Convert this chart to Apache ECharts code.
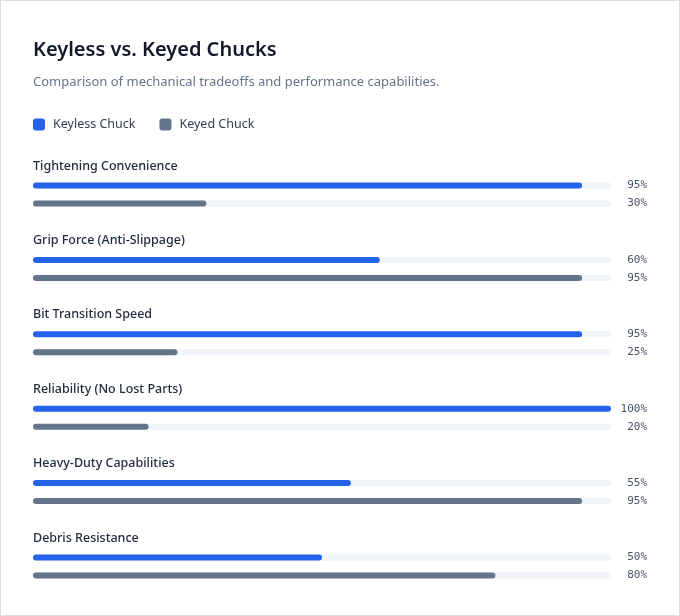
<!DOCTYPE html>
<html><head><meta charset="utf-8">
<script src="https://cdn.jsdelivr.net/npm/echarts@6/dist/echarts.min.js"></script>
<style>
html,body{margin:0;padding:0;background:#fff;}
#wrap{position:relative;width:680px;height:616px;}
#c{position:absolute;left:0;top:0;width:680px;height:616px;}
#b{position:absolute;left:0;top:0;width:680px;height:616px;box-sizing:border-box;border:1px solid #dddddd;pointer-events:none;}
</style></head>
<body><div id="wrap"><div id="c"></div><div id="b"></div></div>
<script>
const categories = ["Tightening Convenience","Grip Force (Anti-Slippage)","Bit Transition Speed","Reliability (No Lost Parts)","Heavy-Duty Capabilities","Debris Resistance"];
const keyless = [95,60,95,100,55,50];
const keyed = [30,95,25,20,95,80];
const seriesNames = ["Keyless Chuck","Keyed Chuck"];
const colors = ["#2563eb","#64748b"];
const font = "'Noto Sans', 'Open Sans', sans-serif";

const chart = echarts.init(document.getElementById('c'), null, {renderer:'canvas'});
const titles = [
  {text:"Keyless vs. Keyed Chucks", left:33, top:40, padding:0, textStyle:{fontFamily:font,fontSize:20,fontWeight:600,color:'#111827'}},
  {text:"Comparison of mechanical tradeoffs and performance capabilities.", left:33, top:76, padding:0, textStyle:{fontFamily:font,fontSize:13,fontWeight:400,color:'#64748b'}}
];
const grids=[], xAxes=[], yAxes=[], series=[];
categories.forEach((cat,i)=>{
  const top = 176.5 + 74.4*i;
  titles.push({text:cat, left:33, top: top-17, padding:0, textStyle:{fontFamily:font,fontSize:12.5,fontWeight:500,color:'#1e293b'}});
  grids.push({left:33, right:69, top:top, height:36});
  xAxes.push({gridIndex:i, type:'value', min:0, max:100, show:false});
  yAxes.push({gridIndex:i, type:'category', data:['k','d'], inverse:true, show:false});
  yAxes.push({gridIndex:i, type:'category', position:'right', inverse:true, data:[keyless[i]+'%', keyed[i]+'%'],
    axisLine:{show:false}, axisTick:{show:false}, splitLine:{show:false},
    axisLabel:{align:'right', margin:36, fontFamily:"'DejaVu Sans Mono', monospace", fontSize:11, color:'#475569'}});
  series.push({name:seriesNames[0], type:'bar', xAxisIndex:i, yAxisIndex:2*i, data:[keyless[i],'-'],
    barWidth:6, barGap:'-100%', showBackground:true, backgroundStyle:{color:'#f1f5f9', borderRadius:3},
    itemStyle:{color:colors[0], borderRadius:3}, silent:true});
  series.push({name:seriesNames[1], type:'bar', xAxisIndex:i, yAxisIndex:2*i, data:['-',keyed[i]],
    barWidth:6, barGap:'-100%', showBackground:true, backgroundStyle:{color:'#f1f5f9', borderRadius:3},
    itemStyle:{color:colors[1], borderRadius:3}, silent:true});
});
chart.setOption({
  animation:false,
  color:colors,
  title:titles,
  legend:{data:seriesNames, left:33, top:118, padding:0, itemWidth:12, itemHeight:12, itemGap:24, icon:'roundRect',
    textStyle:{fontFamily:font,fontSize:12.5,color:'#334155', padding:[0,0,0,3]}, selectedMode:false},
  grid:grids, xAxis:xAxes, yAxis:yAxes, series:series
});
</script></body></html>
